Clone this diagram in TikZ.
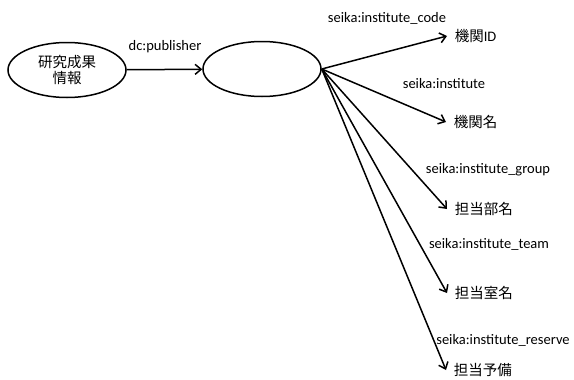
\documentclass[tikz,border=0pt]{standalone}
\usepackage{fontspec}
\setmainfont{Carlito}
\newfontfamily\jp{Noto Sans CJK JP}
\usetikzlibrary{positioning,shapes,arrows.meta}

\begin{document}
\begin{tikzpicture}[%
        ->,
        >={Straight Barb[length=6pt,width=10pt]},
        x=1pt, y=-1pt,
        line width=1.5pt,
        font=\fontsize{14.5}{16.5}\selectfont,
        resource/.style={%
          ellipse,
          minimum width=118pt,
          minimum height=55pt,
          inner sep=0pt,
          draw,
          align=center
        },
        value/.style={anchor=west, inner xsep=7pt, inner ysep=1pt},
        prop/.style={inner sep=1pt}
      ]
      \useasboundingbox (0,0) rectangle (574,380);

      \node[resource] (1) at (67,70) {\jp 研究成果\\\jp 情報};
      \node[resource] (2) at (262,69) {};
      \node[value] (3) at (447,36) {{\jp 機関}ID};
      \node[value] (4) at (446,122) {\jp 機関名};
      \node[value] (5) at (447,209) {\jp 担当部名};
      \node[value] (6) at (447,293) {\jp 担当室名};
      \node[value] (7) at (446,370) {\jp 担当予備};

      \node[prop] (p1) at (165,47) {dc:publisher};
      \node[prop] (p3) at (387,18) {seika:institute\_code};
      \node[prop] (p4) at (444,84) {seika:institute};
      \node[prop] (p5) at (488,170) {seika:institute\_group};
      \node[prop] (p6) at (489,244) {seika:institute\_team};
      \node[prop] (p7) at (503,340) {seika:institute\_reserve};

      \path (1) edge [] node {} (2)
      (2.east) edge [] node {} (3.west)
      (2.east) edge [] node {} (4.west)
      (2.east) edge [] node {} (5.west)
      (2.east) edge [] node {} (6.west)
      (2.east) edge [] node {} (7.west);

    \end{tikzpicture}
\end{document}
